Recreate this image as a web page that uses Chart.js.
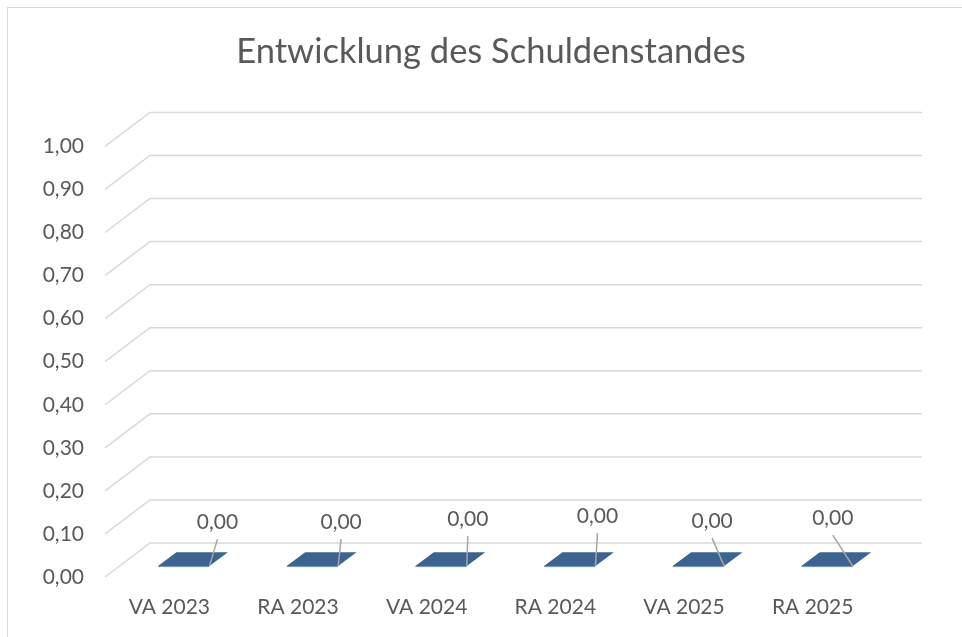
<!DOCTYPE html>
<html>
<head>
<meta charset="utf-8">
<script src="https://cdn.jsdelivr.net/npm/chart.js@4.4.1/dist/chart.umd.min.js"></script>
<style>
  html, body { margin: 0; padding: 0; background: #fff; }
  #wrap { position: relative; width: 962px; height: 637px; }
  #frame { position: absolute; left: 7px; top: 7px; width: 960px; height: 640px;
           border-left: 1px solid #d9d9d9; border-top: 1px solid #d9d9d9; pointer-events: none; }
</style>
</head>
<body>
<div id="wrap">
  <canvas id="chart" width="962" height="637"></canvas>
  <div id="frame"></div>
</div>
<script>
const CATEGORIES = ["VA 2023", "RA 2023", "VA 2024", "RA 2024", "VA 2025", "RA 2025"]
const DEBT_VALUES = [0, 0, 0, 0, 0, 0]
const Y_MIN = 0
const Y_MAX = 1
const Y_STEP = 0.1

const TEXT = "#595959"
const GRID = "#d9d9d9"
const BAR = "#3d6390"

// depth of the fake 3D box
const DEPTH_X = 45
const DEPTH_Y = 34

const fmt = (v)=>Number(v).toFixed(2).replace(".", ",")

const depthPoint = (x, y, f)=>[x + DEPTH_X * f, y - DEPTH_Y * f]

const perspective = {
  id: "perspective",
  beforeDatasetsDraw(chart) {
    const ctx = chart.ctx
    const area = chart.chartArea
    const yScale = chart.scales.y
    ctx.save()
    ctx.strokeStyle = GRID
    ctx.lineWidth = 1.5
    yScale.ticks.forEach((t)=>{
      const y = yScale.getPixelForValue(t.value)
      const [bx, by] = depthPoint(area.left, y, 1)
      ctx.beginPath()
      ctx.moveTo(area.left, y)
      ctx.lineTo(bx, by)
      ctx.lineTo(area.right + DEPTH_X, by)
      ctx.stroke()
    })
    ctx.restore()
  },
  afterDatasetsDraw(chart, args, opts) {
    const ctx = chart.ctx
    const meta = chart.getDatasetMeta(0)
    const values = chart.data.datasets[0].data
    const f1 = opts.front, f2 = opts.back
    ctx.save()
    meta.data.forEach((bar, i)=>{
      const l = bar.x - bar.width / 2
      const r = bar.x + bar.width / 2
      const top = bar.y
      const base = bar.base
      const [fl, ft] = depthPoint(l, top, f1)
      const [fr] = depthPoint(r, top, f1)
      const [bl, bt] = depthPoint(l, top, f2)
      const [br] = depthPoint(r, top, f2)
      const [, fb] = depthPoint(l, base, f1)
      ctx.fillStyle = BAR
      ctx.strokeStyle = "#6a89b0"
      ctx.lineWidth = 1
      // front face
      if (fb - ft > 0.5) {
        ctx.fillRect(fl, ft, fr - fl, fb - ft)
      }
      // top face
      ctx.beginPath()
      ctx.moveTo(fl, ft)
      ctx.lineTo(fr, ft)
      ctx.lineTo(br, bt)
      ctx.lineTo(bl, bt)
      ctx.closePath()
      ctx.fill()
      ctx.beginPath()
      ctx.moveTo(fl, ft + 0.5)
      ctx.lineTo(fr, ft + 0.5)
      ctx.stroke()

      // data label with leader line
      const [dx, dy] = opts.nudges[i]
      const lx = fr + dx
      const ly = ft + dy
      ctx.strokeStyle = "#a6a6a6"
      ctx.lineWidth = 1.5
      ctx.beginPath()
      ctx.moveTo(lx, ly + 17)
      ctx.lineTo(fr, ft)
      ctx.stroke()
      ctx.fillStyle = TEXT
      ctx.font = "21px Lato"
      ctx.textAlign = "center"
      ctx.textBaseline = "middle"
      ctx.fillText(fmt(values[i]), lx, ly)
    })
    ctx.restore()
  }
}

new Chart(document.getElementById("chart"), {
  type: "bar",
  data: {
    labels: CATEGORIES,
    datasets: [{
      label: "Schuldenstand",
      data: DEBT_VALUES,
      backgroundColor: "rgba(0,0,0,0)",
      borderWidth: 0,
      barPercentage: 0.4,
      categoryPercentage: 1
    }]
  },
  options: {
    responsive: false,
    animation: false,
    layout: { padding: { left: 0, right: 85, top: 0, bottom: 0 } },
    plugins: {
      legend: { display: false },
      tooltip: { enabled: false },
      title: {
        display: true,
        fullSize: false,
        text: "Entwicklung des Schuldenstandes",
        color: TEXT,
        font: { family: "Lato", size: 34.5, weight: "normal" },
        padding: { top: 31, bottom: 74 }
      },
      perspective: {
        front: 0.32,
        back: 0.73,
        nudges: [[8, -44], [3, -44], [1, -47], [2, -50], [-12, -45], [-20, -48]]
      }
    },
    scales: {
      x: {
        grid: { display: false, drawTicks: false },
        border: { display: false },
        ticks: { color: TEXT, font: { family: "Lato", size: 21 }, padding: 18 },
        afterFit(scale) { scale.height = 60 }
      },
      y: {
        min: Y_MIN,
        max: Y_MAX,
        grid: { display: false, drawTicks: false },
        border: { display: false },
        ticks: {
          stepSize: Y_STEP,
          color: TEXT,
          font: { family: "Lato", size: 21 },
          padding: 21,
          callback: (v)=>fmt(v)
        },
        afterFit(scale) { scale.width = 105 }
      }
    }
  },
  plugins: [perspective]
})
</script>
</body>
</html>
